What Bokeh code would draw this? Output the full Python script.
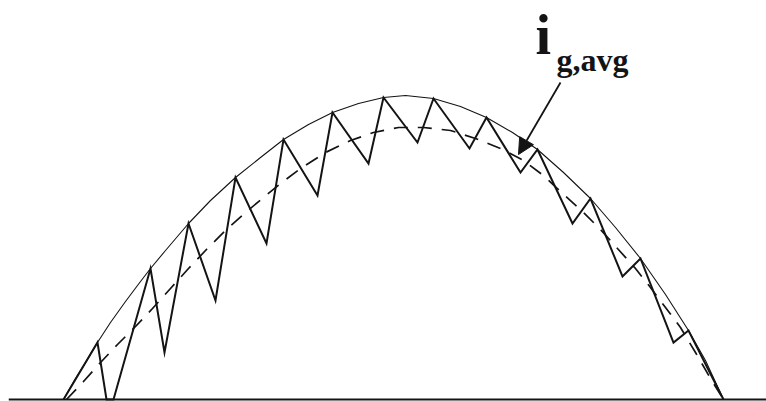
from bokeh.plotting import figure
from bokeh.models import Range1d, Span, Label, Arrow, NormalHead
from bokeh.embed import file_html
from bokeh.resources import INLINE

# Half line cycle of the grid current, in drawing units (0 = zero-current line).
# Peak-current envelope (solid, thin)
envelope_t = [63, 75, 85, 95, 110, 125, 140, 150, 165, 188, 210, 235, 260, 283, 308, 332,
              358, 383, 405, 433, 460, 486, 512, 537, 563, 590, 615, 640, 665, 688, 705, 723]
envelope_i = [0, 21, 37, 54, 77, 98, 118, 131, 149, 176, 199, 222, 242, 260, 275, 287,
              296, 302, 304, 301, 293, 282, 267, 250, 227, 201, 172, 141, 105, 69, 39, 0]

# Switched inductor current (sawtooth)
ripple_t = [63, 97, 106, 113, 150, 164, 188, 215, 235, 266, 283, 317, 332, 368, 383, 417,
            433, 469, 486, 520, 537, 572, 590, 622, 640, 673, 688, 723]
ripple_i = [0, 57, 0, 0, 131, 47, 176, 99, 222, 156, 260, 204, 287, 236, 302, 257,
            301, 251, 282, 227, 250, 176, 201, 123, 141, 57, 69, 0]

# Averaged grid current i_g,avg (dashed)
avg_t = [66, 83, 100, 117, 135, 152, 170, 188, 205, 225, 245, 263, 280, 300, 325, 350, 373,
         398, 423, 450, 475, 500, 523, 543, 562, 582, 600, 617, 635, 650, 665, 680, 695, 710, 723]
avg_i = [0, 18, 37, 55, 73, 91, 111, 131, 149, 169, 187, 202, 216, 231, 247, 259, 267,
         272, 272, 269, 261, 251, 239, 224, 206, 188, 170, 151, 131, 112, 92, 72, 47, 21, 0]

INK = "#141414"

p = figure(width=766, height=401, output_backend="svg", toolbar_location=None,
           x_range=Range1d(8, 766), y_range=Range1d(-2, 399))
p.min_border = 0
p.min_border_left = 8
p.axis.visible = False
p.grid.visible = False
p.outline_line_color = None
p.background_fill_color = "white"
p.border_fill_color = "white"

# zero-current line
p.add_layout(Span(location=0, dimension="width", line_color=INK, line_width=1.8))

p.line(envelope_t, envelope_i, line_color=INK, line_width=1.1)
p.line(avg_t, avg_i, line_color=INK, line_width=1.7, line_dash="14 10")
p.line(ripple_t, ripple_i, line_color=INK, line_width=2.0, line_join="miter")

# annotation: i_g,avg with arrow onto the averaged curve
p.add_layout(Label(x=535, y=365, text="i", text_font="Liberation Serif",
                   text_font_style="bold", text_font_size="56px", text_color=INK,
                   text_baseline="alphabetic", text_align="left"))
p.add_layout(Label(x=556, y=340, text="g,avg", text_font="Liberation Serif",
                   text_font_style="bold", text_font_size="32px", text_color=INK,
                   text_baseline="alphabetic", text_align="left"))
p.add_layout(Arrow(x_start=560, y_start=317, x_end=518, y_end=245,
                   line_color=INK, line_width=1.8,
                   end=NormalHead(size=16, fill_color=INK, line_color=INK)))

open("out.html", "w").write(file_html(p, INLINE))
